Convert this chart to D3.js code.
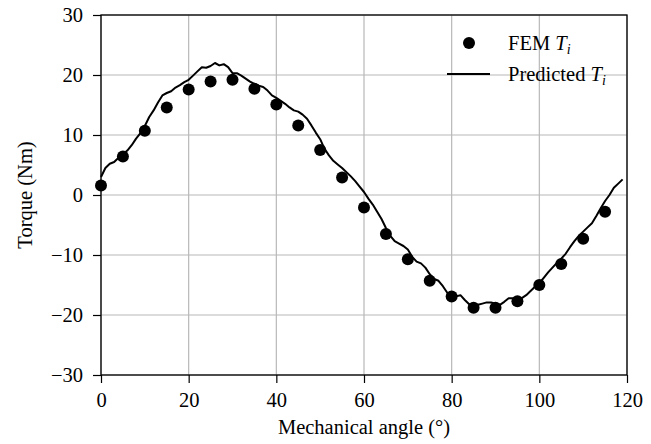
<!DOCTYPE html>
<html>
<head>
<meta charset="utf-8">
<script src="https://cdn.jsdelivr.net/npm/d3@7"></script>
<style>
  html, body { margin: 0; padding: 0; background: #fff; }
  svg { display: block; font-family: "Liberation Serif", "DejaVu Serif", serif; }
</style>
</head>
<body>
<svg id="chart" width="651" height="444"></svg>
<script>
// FEM torque samples every 5 degrees
const femAngle = [0, 5, 10, 15, 20, 25, 30, 35, 40, 45, 50, 55, 60, 65, 70, 75, 80, 85, 90, 95, 100, 105, 110, 115];
const femTorque = [1.6, 6.4, 10.7, 14.6, 17.6, 18.9, 19.2, 17.7, 15.1, 11.6, 7.5, 2.9, -2.1, -6.5, -10.7, -14.3, -16.9, -18.8, -18.8, -17.7, -15.0, -11.5, -7.3, -2.8];

// Predicted torque, one value per degree
const predAngle = d3.range(0, 120);
const predTorque = [
  3.0, 4.5, 5.2, 5.5, 6.2, 6.8, 7.4, 8.3, 9.4, 10.3,
  11.5, 13.0, 14.1, 15.4, 16.6, 17.0, 17.3, 17.9, 18.3, 18.8,
  19.2, 19.9, 20.6, 21.3, 21.2, 21.5, 22.0, 21.6, 21.8, 21.3,
  20.3, 20.3, 19.9, 19.4, 18.9, 18.5, 18.2, 18.0, 17.4, 16.6,
  16.2, 15.7, 15.2, 14.6, 14.1, 13.9, 13.4, 12.7, 11.6, 10.4,
  9.3, 7.7, 6.6, 5.7, 5.1, 4.5, 3.8, 3.1, 2.3, 1.4,
  0.5, -0.6, -1.6, -2.8, -4.0, -5.5, -6.8, -7.7, -8.1, -8.5,
  -9.1, -10.3, -11.1, -11.4, -12.1, -13.2, -14.0, -14.3, -15.2, -16.3,
  -16.8, -16.9, -16.7, -17.5, -18.2, -18.6, -18.3, -18.1, -17.9, -17.9,
  -18.1, -18.3, -17.8, -17.2, -17.2, -17.2, -17.2, -16.7, -16.0, -15.3,
  -14.7, -13.8, -12.9, -12.1, -11.3, -10.6, -9.8, -8.7, -7.7, -6.8,
  -6.1, -5.4, -4.7, -3.5, -2.2, -1.0, 0.0, 1.2, 1.9, 2.6
];

const xTicks = [0, 20, 40, 60, 80, 100, 120];
const yTicks = [-30, -20, -10, 0, 10, 20, 30];
const xTickLabels = ["0", "20", "40", "60", "80", "100", "120"];
const yTickLabels = ["\u221230", "\u221220", "\u221210", "0", "10", "20", "30"];

const svg = d3.select("#chart");
const plot = { left: 101, right: 627, top: 15, bottom: 375 };
const fontSize = 20.5;

const x = d3.scaleLinear().domain([0, 120]).range([plot.left, plot.right]);
const y = d3.scaleLinear().domain([-30, 30]).range([plot.bottom, plot.top]);

// Grid
const grid = svg.append("g").attr("stroke", "#b8b8b8").attr("stroke-width", 1.2);
grid.selectAll("line.gx").data(xTicks).join("line")
  .attr("x1", d => x(d)).attr("x2", d => x(d))
  .attr("y1", plot.top).attr("y2", plot.bottom);
grid.selectAll("line.gy").data(yTicks).join("line")
  .attr("x1", plot.left).attr("x2", plot.right)
  .attr("y1", d => y(d)).attr("y2", d => y(d));

// Axes
const xAxis = d3.axisBottom(x).tickValues(xTicks)
  .tickFormat((d, i) => xTickLabels[i]).tickSize(8).tickPadding(9);
const yAxis = d3.axisLeft(y).tickValues(yTicks)
  .tickFormat((d, i) => yTickLabels[i]).tickSize(8).tickPadding(10);

const gx = svg.append("g").attr("transform", `translate(0,${plot.bottom})`).call(xAxis);
const gy = svg.append("g").attr("transform", `translate(${plot.left},0)`).call(yAxis);
[gx, gy].forEach(g => {
  g.attr("font-family", null).attr("font-size", null);
  g.select(".domain").remove();
  g.selectAll(".tick line").attr("stroke", "#000").attr("stroke-width", 1.2);
  g.selectAll(".tick text")
    .style("font-family", "'Liberation Serif', serif")
    .style("font-size", fontSize + "px").attr("fill", "#000");
});

// Frame
svg.append("rect")
  .attr("x", plot.left).attr("y", plot.top)
  .attr("width", plot.right - plot.left).attr("height", plot.bottom - plot.top)
  .attr("fill", "none").attr("stroke", "#000").attr("stroke-width", 1.3);

// Axis titles
svg.append("text")
  .attr("x", (plot.left + plot.right) / 2).attr("y", 434)
  .attr("text-anchor", "middle").style("font-size", fontSize + "px")
  .text("Mechanical angle (\u00b0)");
svg.append("text")
  .attr("transform", `translate(25,${(plot.top + plot.bottom) / 2}) rotate(-90)`)
  .attr("text-anchor", "middle").attr("dy", "0.32em").style("font-size", fontSize + "px")
  .text("Torque (Nm)");

// Predicted line
const predData = predAngle.map((a, i) => [a, predTorque[i]]);
svg.append("path")
  .datum(predData)
  .attr("fill", "none").attr("stroke", "#000").attr("stroke-width", 2)
  .attr("stroke-linejoin", "round")
  .attr("d", d3.line().x(d => x(d[0])).y(d => y(d[1])));

// FEM markers
svg.append("g").selectAll("circle")
  .data(femAngle.map((a, i) => [a, femTorque[i]]))
  .join("circle")
  .attr("cx", d => x(d[0])).attr("cy", d => y(d[1]))
  .attr("r", 6).attr("fill", "#000");

// Legend
const legend = svg.append("g").style("font-size", fontSize + "px");
legend.append("circle").attr("cx", 469).attr("cy", 43).attr("r", 6).attr("fill", "#000");
legend.append("line").attr("x1", 447).attr("x2", 490).attr("y1", 74).attr("y2", 74)
  .attr("stroke", "#000").attr("stroke-width", 2);

function legendLabel(text, ly) {
  const t = legend.append("text").attr("x", 508).attr("y", ly).attr("dy", "0.33em");
  t.append("tspan").text(text + " ");
  t.append("tspan").attr("font-style", "italic").text("T");
  t.append("tspan").attr("font-style", "italic").style("font-size", "14px")
    .attr("dy", "0.3em").text("i");
}
legendLabel("FEM", 43);
legendLabel("Predicted", 74);
</script>
</body>
</html>
